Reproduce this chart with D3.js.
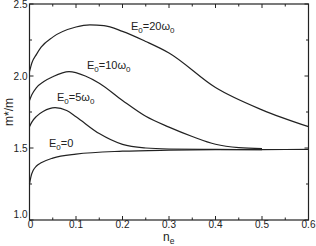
<!DOCTYPE html>
<html><head><meta charset="utf-8">
<script src="https://cdn.jsdelivr.net/npm/d3@7"></script>
<style>body{margin:0;background:#fff}svg{display:block}text{font-family:"Liberation Sans",Arial,sans-serif;fill:#222}</style>
</head><body><svg id="c" width="316" height="246"></svg>
<script>
const xTicks = [0,0.1,0.2,0.3,0.4,0.5,0.6];
const xTickLabels = ["0","0.1","0.2","0.3","0.4","0.5","0.6"];
const yTicks = [1.0,1.5,2.0,2.5];
const yTickLabels = ["1.0","1.5","2.0","2.5"];
const seriesNames = ["E0=20w0","E0=10w0","E0=5w0","E0=0"];
const ne20 = [0,0.005,0.015,0.025,0.05,0.1,0.13,0.16,0.2,0.25,0.3,0.4,0.5,0.6];
const m20  = [2.03,2.09,2.15,2.20,2.27,2.34,2.355,2.35,2.31,2.24,2.16,1.92,1.765,1.648];
const ne10 = [0,0.005,0.015,0.03,0.05,0.085,0.12,0.15,0.2,0.25,0.3,0.35,0.4,0.45,0.5];
const m10  = [1.83,1.87,1.92,1.96,1.995,2.03,2.00,1.95,1.83,1.72,1.645,1.58,1.526,1.502,1.495];
const ne5  = [0,0.005,0.015,0.03,0.055,0.08,0.1,0.15,0.2,0.25,0.3,0.4,0.5];
const m5   = [1.648,1.68,1.72,1.755,1.78,1.76,1.717,1.60,1.525,1.50,1.493,1.49,1.488];
const ne0  = [0,0.003,0.008,0.015,0.025,0.05,0.1,0.2,0.3,0.4,0.5,0.6];
const m0   = [1.25,1.30,1.345,1.375,1.397,1.43,1.458,1.478,1.485,1.488,1.489,1.49];

const svg = d3.select("#c");
const L=29.5, R=308.5, T=4, B=220;
const x = d3.scaleLinear().domain([0,0.6]).range([L,R]);
const y = d3.scaleLinear().domain([1.0,2.5]).range([B,T]);

const g = svg.append("g");
g.append("rect").attr("x",L).attr("y",T).attr("width",R-L).attr("height",B-T)
 .attr("fill","none").attr("stroke","#222").attr("stroke-width",1.2);

const xMinor = d3.range(0,0.6001,0.05);
const yMinor = d3.range(1.0,2.5001,0.25);
function tk(sel){sel.attr("stroke","#222").attr("stroke-width",1);}
xMinor.forEach(v=>{
  const major = Math.abs(v*10-Math.round(v*10))<1e-6;
  const len = major?4:2.5;
  tk(g.append("line").attr("x1",x(v)).attr("x2",x(v)).attr("y1",B).attr("y2",B-len));
  tk(g.append("line").attr("x1",x(v)).attr("x2",x(v)).attr("y1",T).attr("y2",T+len));
});
yMinor.forEach(v=>{
  const major = Math.abs(v*2-Math.round(v*2))<1e-6;
  const len = major?4:2.5;
  tk(g.append("line").attr("y1",y(v)).attr("y2",y(v)).attr("x1",L).attr("x2",L+len));
  tk(g.append("line").attr("y1",y(v)).attr("y2",y(v)).attr("x1",R).attr("x2",R-len));
});
xTicks.forEach((v,i)=>{
  g.append("text").attr("x",x(v)+(i===0?1:0)).attr("y",B+7.5).attr("text-anchor","middle")
   .attr("font-size",10).text(xTickLabels[i]);
});
yTicks.forEach((v,i)=>{
  g.append("text").attr("x",L-2).attr("y",y(v)+(i===0?-2:3.5)).attr("text-anchor","end")
   .attr("font-size",10).text(yTickLabels[i]);
});

const xl = g.append("text").attr("x",163).attr("y",240.5).attr("font-size",12);
xl.append("tspan").text("n");
xl.append("tspan").attr("font-size",8.5).attr("dy",3).text("e");
g.append("text").attr("transform","translate(13,112) rotate(-90)").attr("text-anchor","middle")
 .attr("font-size",12).text("m*/m");

const line = d3.line().x(d=>x(d[0])).y(d=>y(d[1])).curve(d3.curveMonotoneX);
[[ne20,m20],[ne10,m10],[ne5,m5],[ne0,m0]].forEach(([a,b])=>{
  g.append("path").attr("d",line(a.map((v,i)=>[v,b[i]]))).attr("fill","none")
   .attr("stroke","#222").attr("stroke-width",1.2);
});

function lab(px,py,val){
  const t = g.append("text").attr("x",px).attr("y",py).attr("font-size",11);
  t.append("tspan").text("E");
  t.append("tspan").attr("font-size",8).attr("dy",3).text("0");
  if(val==="0"){ t.append("tspan").attr("dy",-3).text("=0"); }
  else {
    t.append("tspan").attr("dy",-3).text("="+val+"\u03c9");
    t.append("tspan").attr("font-size",8).attr("dy",3).text("0");
  }
}
lab(131,30,"20");
lab(87,69,"10");
lab(57,101,"5");
lab(49,147,"0");
</script></body></html>
